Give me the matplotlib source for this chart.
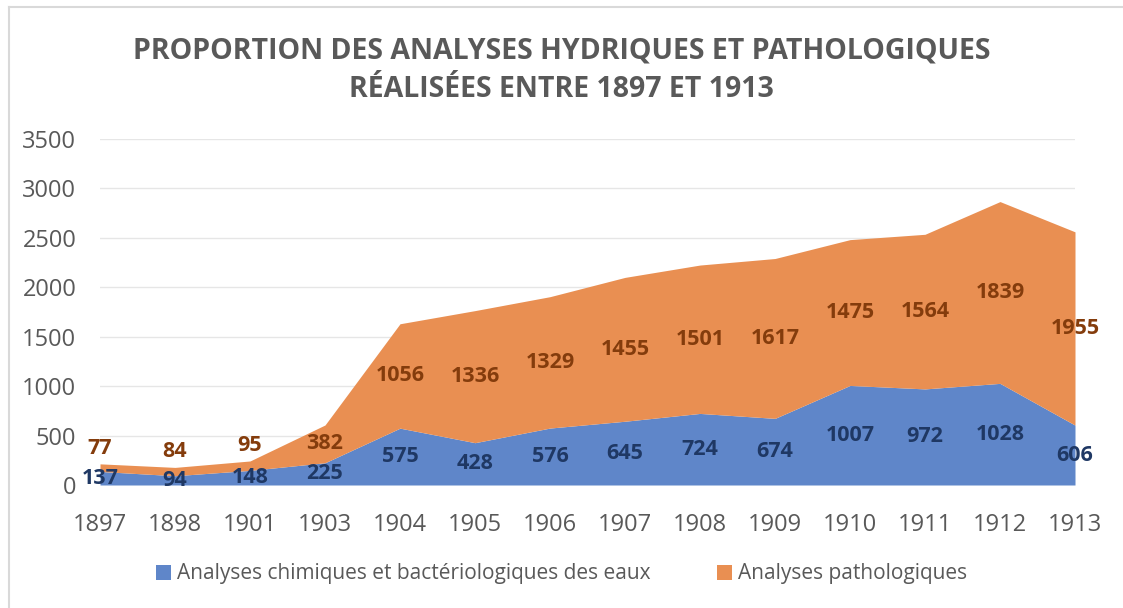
import numpy as np
import matplotlib.pyplot as plt
from matplotlib.lines import Line2D
from matplotlib.patches import Patch

# Data
years = ["1897", "1898", "1901", "1903", "1904", "1905", "1906", "1907",
         "1908", "1909", "1910", "1911", "1912", "1913"]
eaux = [137, 94, 148, 225, 575, 428, 576, 645, 724, 674, 1007, 972, 1028, 606]
patho = [77, 84, 95, 382, 1056, 1336, 1329, 1455, 1501, 1617, 1475, 1564, 1839, 1955]

title = "PROPORTION DES ANALYSES HYDRIQUES ET PATHOLOGIQUES\nRÉALISÉES ENTRE 1897 ET 1913"
label_eaux = "Analyses chimiques et bactériologiques des eaux"
label_patho = "Analyses pathologiques"

BLUE = "#5f86c9"
ORANGE = "#e98f52"
BLUE_TXT = "#1f3864"
ORANGE_TXT = "#843c0c"
GREY = "#595959"

plt.rcParams['font.family'] = ['Open Sans', 'DejaVu Sans']

fig = plt.figure(figsize=(11.23, 6.08), dpi=100)
ax = fig.add_axes([100 / 1123, 1 - 485 / 608, 975 / 1123, 346 / 608])

x = np.arange(len(years))
eaux = np.array(eaux)
patho = np.array(patho)
top = eaux + patho

ax.fill_between(x, 0, eaux, color=BLUE, lw=0, zorder=2)
ax.fill_between(x, eaux, top, color=ORANGE, lw=0, zorder=2)

# data labels, roughly centered in each band
for i in range(len(x)):
    ax.text(x[i], eaux[i] / 2, str(eaux[i]), ha='center', va='center',
            fontsize=15.5, fontweight='bold', color=BLUE_TXT, zorder=3)
    if patho[i] < 150:
        y_o = top[i] + 160
    else:
        y_o = eaux[i] + patho[i] / 2
    ax.text(x[i], y_o, str(patho[i]), ha='center', va='center',
            fontsize=15.5, fontweight='bold', color=ORANGE_TXT, zorder=3)

ax.set_xlim(0, len(x) - 1)
ax.set_ylim(0, 3500)
ax.set_yticks(np.arange(0, 3501, 500))
ax.set_xticks(x)
ax.set_xticklabels(years)
ax.grid(axis='y', color='#e6e6e6', lw=1, zorder=0)
ax.set_axisbelow(True)
for s in ax.spines.values():
    s.set_visible(False)
ax.tick_params(length=0, labelsize=17, colors=GREY)
ax.tick_params(axis='x', pad=20)
ax.tick_params(axis='y', pad=17)
ax.patch.set_alpha(0)

fig.text(0.5, 1 - 70 / 608, title, ha='center', va='center', fontsize=20.5,
         fontweight='bold', color=GREY, linespacing=1.45)

handles = [Patch(facecolor=BLUE, label=label_eaux),
           Patch(facecolor=ORANGE, label=label_patho)]
fig.legend(handles=handles, loc='center', bbox_to_anchor=(0.5, 1 - 574 / 608),
           ncol=2, frameon=False, fontsize=15, labelcolor=GREY,
           handlelength=0.7, handleheight=0.7, handletextpad=0.3, columnspacing=3.2)

# chart border (top and left visible in the reference)
fig.add_artist(Line2D([9 / 1123, 1], [1 - 7 / 608, 1 - 7 / 608], color='#d9d9d9', lw=1.5))
fig.add_artist(Line2D([9 / 1123, 9 / 1123], [0, 1 - 7 / 608], color='#d9d9d9', lw=1.5))

fig.savefig("out.png", dpi=100)
